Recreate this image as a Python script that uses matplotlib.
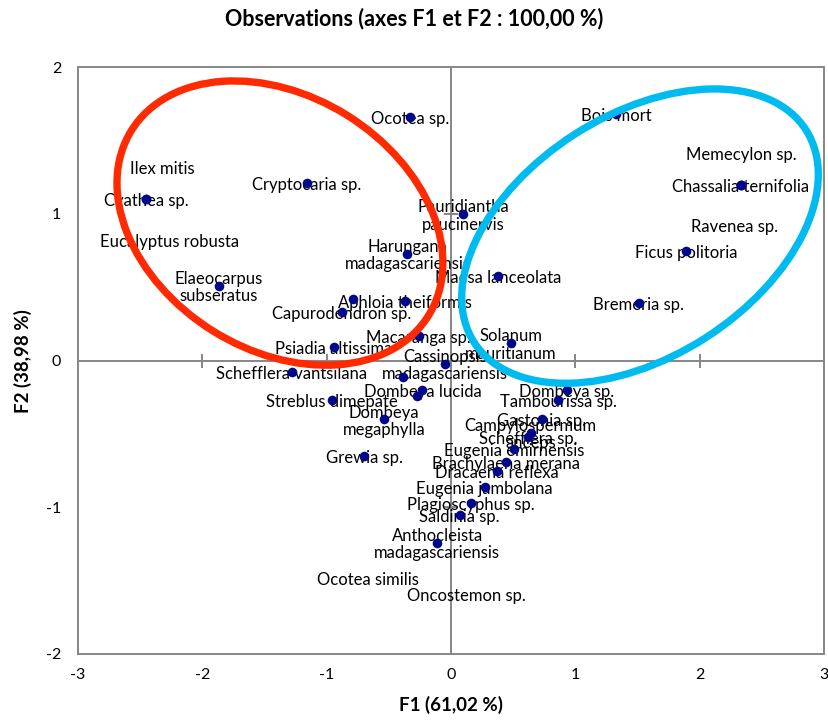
import matplotlib.pyplot as plt
from matplotlib.patches import Ellipse
from matplotlib.transforms import ScaledTranslation

plt.rcParams['font.family'] = ['Lato', 'DejaVu Sans']
plt.rcParams['axes.unicode_minus'] = False

# Observations (PCA scores on F1 / F2)
species = [
    "Ocotea sp.", "Ilex mitis", "Cryptocaria sp.", "Cyathea sp.",
    "Eucalyptus robusta", "Elaeocarpus\nsubseratus", "Harungana\nmadagascariensis",
    "Pauridiantha\npaucinervis", "Maesa lanceolata", "Aphloia theiformis",
    "Capurodendron sp.", "Macaranga sp.", "Psiadia altissima",
    "Cassinopsis\nmadagascariensis", "Solanum\nmauritianum", "Schefflera vantsilana",
    "Dombeya lucida", "Ocotea similis", "Oncostemon sp.", "Streblus dimepate",
    "Dombeya\nmegaphylla", "Grewia sp.", "Dombeya sp.", "Tambourissa sp.",
    "Gastonia sp.", "Campylospermum\nanceps", "Schefflera sp.", "Eugenia emirnensis",
    "Brachylaena merana", "Dracaena reflexa", "Eugenia jambolana",
    "Plagioscyphus sp.", "Saldinia sp.", "Anthocleista\nmadagascariensis",
    "Bois mort", "Memecylon sp.", "Chassalia ternifolia", "Ravenea sp.",
    "Ficus politoria", "Bremeria sp.",
]
f1 = [-0.33, -2.45, -1.16, -2.45, -0.79, -1.87, -0.35, 0.10, 0.38, -0.37,
      -0.88, -0.26, -0.94, -0.05, 0.48, -1.28, -0.23, -0.39, -0.27, -0.96,
      -0.54, -0.70, 0.93, 0.86, 0.73, 0.64, 0.62, 0.51, 0.44, 0.37,
      0.27, 0.16, 0.07, -0.11, 1.33, 2.33, 2.33, 2.33, 1.89, 1.51]
f2 = [1.66, 1.10, 1.21, 1.10, 0.42, 0.51, 0.73, 1.00, 0.58, 0.41,
      0.33, 0.17, 0.09, -0.02, 0.12, -0.08, -0.20, -0.11, -0.24, -0.27,
      -0.40, -0.65, -0.20, -0.27, -0.40, -0.49, -0.52, -0.60, -0.69, -0.75,
      -0.86, -0.97, -1.05, -1.24, 1.68, 1.20, 1.20, 1.20, 0.75, 0.39]

x_ticks = [-3, -2, -1, 0, 1, 2, 3]
y_ticks = [-2, -1, 0, 1, 2]

# labels that were dragged away from their point (offset in pixels)
label_shift = {
    "Ilex mitis": (16, 30),
    "Eucalyptus robusta": (-183, 57),
    "Ocotea similis": (-35, -203),
    "Oncostemon sp.": (49, -200),
    "Memecylon sp.": (1, 30),
    "Ravenea sp.": (-6, -42),
}

grey = "#868686"
fig = plt.figure(figsize=(8.29, 7.22), dpi=100)
ax = fig.add_axes([0.0941, 0.0942, 0.8999, 0.8126])
ax.set_xlim(-3, 3)
ax.set_ylim(-2, 2)
ax.set_xticks(x_ticks)
ax.set_yticks(y_ticks)
ax.tick_params(length=0, labelsize=11.5, colors="black")
ax.tick_params(axis="x", pad=10)
ax.tick_params(axis="y", pad=12)
for s in ax.spines.values():
    s.set_color(grey)
    s.set_linewidth(1.4)

# axes crossing at zero, with little tick marks
ax.axhline(0, color=grey, lw=1.4, zorder=1)
ax.axvline(0, color=grey, lw=1.4, zorder=1)
inner_x = [t for t in x_ticks if t not in (0, -3, 3)]
inner_y = [t for t in y_ticks if t not in (0, -2, 2)]
ax.plot(inner_x, [0] * len(inner_x), ls="none", marker="|", ms=9.5, mew=1.4, color=grey, zorder=1)
ax.plot([0] * len(inner_y), inner_y, ls="none", marker="_", ms=9.5, mew=1.4, color=grey, zorder=1)

# points + labels
for name, x, y in zip(species, f1, f2):
    dx, dy = label_shift.get(name, (0, -2))
    ax.annotate(name, (x, y), xytext=(dx, dy), textcoords="offset pixels",
                ha="center", va="center", fontsize=12, linespacing=1.1,
                color="black", zorder=3)
ax.scatter(f1, f2, s=48, color="#00088C", zorder=4, linewidths=0)

# hand-drawn groups (size in inches, centre in data units)
groups = [((-1.376, 0.938), 3.50, 2.54, -32, "#FF2A00"),
          ((1.52, 0.849), 3.94, 2.42, 32.6, "#00BBF0")]
for (cx, cy), w, h, ang, col in groups:
    tr = fig.dpi_scale_trans + ScaledTranslation(cx, cy, ax.transData)
    ax.add_patch(Ellipse((0, 0), w, h, angle=ang, transform=tr, fill=False,
                         edgecolor=col, lw=5.3, zorder=5, clip_on=False))

ax.set_xlabel("F1 (61,02 %)", fontsize=13.5, fontweight="bold", labelpad=10)
ax.set_ylabel("F2 (38,98 %)", fontsize=13.5, fontweight="bold", labelpad=10)
fig.suptitle("Observations (axes F1 et F2 : 100,00 %)", fontsize=15.5,
             fontweight="bold", y=0.975, va="center")

fig.savefig("out.png", dpi=100)
